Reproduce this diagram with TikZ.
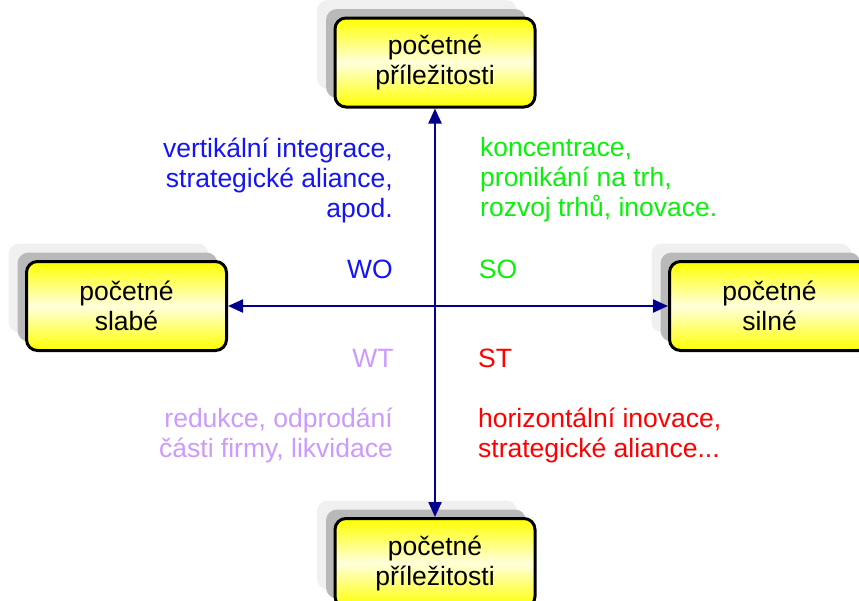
\documentclass[tikz,border=0pt]{standalone}
\usepackage{fontspec}
\setmainfont{Liberation Sans}
\usetikzlibrary{arrows.meta,shadows}
\definecolor{cblue}{RGB}{20,20,245}
\definecolor{cgreen}{RGB}{10,240,10}
\definecolor{cred}{RGB}{255,0,0}
\definecolor{clav}{RGB}{204,153,255}
\definecolor{caxis}{RGB}{0,0,140}
\definecolor{cyel}{RGB}{255,255,0}
\definecolor{cyellight}{RGB}{255,255,220}
\tikzset{
  boxnode/.style={
    general shadow={fill=gray!12, shadow xshift=-18pt, shadow yshift=18pt},
    general shadow={fill=gray!55, shadow xshift=-9pt, shadow yshift=9pt},
    draw=black, line width=3pt, rounded corners=11pt,
    top color=cyel, bottom color=cyel, middle color=cyellight,
    minimum width=200pt, minimum height=89pt, inner sep=0pt,
    align=center, font=\fontsize{26.5}{30}\selectfont},
  lbl/.style={inner sep=0pt, font=\fontsize{26.5}{30}\selectfont},
  axisline/.style={draw=caxis, line width=2.2pt,
    {Triangle[length=15pt,width=13pt]}-{Triangle[length=15pt,width=13pt]}}
}
\begin{document}
\begin{tikzpicture}[x=1pt,y=-1pt]
\useasboundingbox (0,0) rectangle (859,600);
\node[boxnode] (top) at (435,62.5) {\raisebox{-2.5pt}{početné}\\\raisebox{-2.5pt}{příležitosti}};
\node[boxnode] (left) at (126.5,306) {\raisebox{-2pt}{početné}\\\raisebox{-2pt}{slabé}};
\node[boxnode] (right) at (769.5,306) {\raisebox{-2pt}{početné}\\\raisebox{-2pt}{silné}};
\node[boxnode] (bottom) at (435,563) {\raisebox{-2pt}{početné}\\\raisebox{-2pt}{příležitosti}};
\draw[axisline] (top.south) -- (bottom.north);
\draw[axisline] (left.east) -- (right.west);
\node[lbl, text=cblue, align=right, anchor=east] (wotext) at (393,180) {vertikální integrace,\\strategické aliance,\\apod.};
\node[lbl, text=cgreen, align=left, anchor=west] (sotext) at (480,180) {koncentrace,\\pronikání na trh,\\rozvoj trhů, inovace.};
\node[lbl, text=clav, align=right, anchor=east] (wttext) at (393,435) {redukce, odprodání\\části firmy, likvidace};
\node[lbl, text=cred, align=left, anchor=west] (sttext) at (478,435) {horizontální inovace,\\strategické aliance...};
\node[lbl, text=cblue] (wo) at (370,269) {WO};
\node[lbl, text=cgreen] (so) at (498,269) {SO};
\node[lbl, text=clav] (wt) at (373,358) {WT};
\node[lbl, text=cred] (st) at (495,358) {ST};
\end{tikzpicture}
\end{document}
